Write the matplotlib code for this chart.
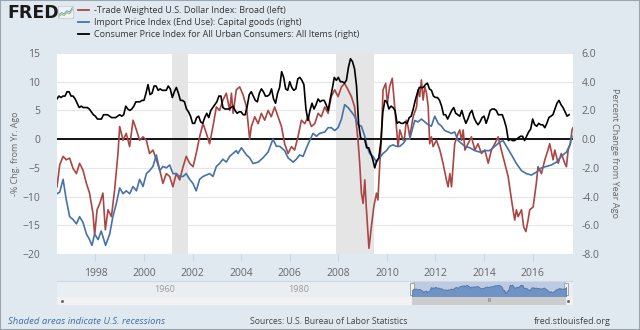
import numpy as np
import matplotlib
matplotlib.use("Agg")
import matplotlib.pyplot as plt
from matplotlib.lines import Line2D
from matplotlib.transforms import blended_transform_factory

plt.rcParams['font.family'] = ['Open Sans', 'DejaVu Sans']

BG = '#e1e9f0'
RED = '#aa4643'
BLUE = '#4572a7'
TXT = '#666666'

# -Trade Weighted U.S. Dollar Index: Broad, % chg from yr ago (left axis)
dollar_t = [1996.42, 1996.47, 1996.53, 1996.67, 1996.80, 1996.94, 1997.08, 1997.22, 1997.35, 1997.49,
            1997.63, 1997.76, 1997.90, 1997.97, 1998.07, 1998.18, 1998.31, 1998.41, 1998.52, 1998.66,
            1998.79, 1998.93, 1999.00, 1999.14, 1999.27, 1999.41, 1999.55, 1999.69, 1999.82, 1999.96,
            2000.10, 2000.23, 2000.37, 2000.51, 2000.65, 2000.78, 2000.92, 2001.06, 2001.19, 2001.33,
            2001.47, 2001.61, 2001.74, 2001.88, 2002.02, 2002.15, 2002.29, 2002.43, 2002.57, 2002.70,
            2002.84, 2002.98, 2003.11, 2003.25, 2003.39, 2003.53, 2003.60, 2003.67, 2003.80, 2003.94,
            2004.08, 2004.22, 2004.35, 2004.42, 2004.56, 2004.70, 2004.83, 2004.97, 2005.11, 2005.24,
            2005.38, 2005.52, 2005.66, 2005.79, 2005.93, 2006.07, 2006.20, 2006.34, 2006.48, 2006.62,
            2006.75, 2006.89, 2007.03, 2007.17, 2007.30, 2007.44, 2007.58, 2007.71, 2007.85, 2007.99,
            2008.13, 2008.26, 2008.40, 2008.54, 2008.67, 2008.74, 2008.81, 2008.88, 2008.95, 2009.02,
            2009.09, 2009.15, 2009.22, 2009.26, 2009.36, 2009.46, 2009.57, 2009.63, 2009.70, 2009.77,
            2009.84, 2009.95, 2010.02, 2010.11, 2010.22, 2010.32, 2010.39, 2010.46, 2010.53, 2010.67,
            2010.73, 2010.80, 2010.87, 2010.94, 2011.08, 2011.22, 2011.28, 2011.35, 2011.42, 2011.49,
            2011.56, 2011.63, 2011.70, 2011.76, 2011.83, 2011.90, 2012.04, 2012.18, 2012.31, 2012.45,
            2012.52, 2012.59, 2012.66, 2012.72, 2012.79, 2012.93, 2013.00, 2013.07, 2013.14, 2013.21,
            2013.34, 2013.48, 2013.62, 2013.75, 2013.89, 2014.03, 2014.17, 2014.30, 2014.44, 2014.58,
            2014.71, 2014.85, 2014.99, 2015.13, 2015.26, 2015.33, 2015.40, 2015.54, 2015.63, 2015.72,
            2015.81, 2015.88, 2016.02, 2016.15, 2016.22, 2016.36, 2016.50, 2016.63, 2016.70, 2016.84,
            2016.91, 2017.05, 2017.18, 2017.32, 2017.39, 2017.46, 2017.55, 2017.62, 2017.66]
dollar_v = [-8.3, -6.5, -4.5, -3.0, -3.6, -3.3, -5.1, -6.0, -4.2, -5.4,
            -7.7, -9.4, -12.9, -16.7, -12.3, -11.2, -9.4, -15.8, -12.3, -13.5,
            -8.9, -2.5, 2.2, -0.2, 1.0, -1.3, 3.3, 1.6, -0.2, 0.4,
            -0.2, -2.5, -1.9, -3.6, -5.4, -7.7, -6.0, -6.5, -8.3, -6.0,
            -7.1, -4.8, -3.0, -4.2, -4.8, -2.5, 0.4, 2.7, 1.0, -0.8,
            2.2, 5.6, 5.0, 6.8, 8.0, 5.0, 8.0, 4.5, 8.6, 9.1,
            7.7, 5.6, 0.0, 2.2, 3.9, 2.7, 4.5, 3.3, 5.0, 3.9,
            5.6, 3.9, 2.2, -0.8, -2.5, -1.3, -1.9, 0.4, 3.3, 2.7,
            3.9, 2.2, 2.7, 4.5, 3.9, 5.6, 4.5, 7.4, 8.6, 7.4,
            9.1, 9.7, 8.6, 7.4, 5.6, 2.7, -0.2, -4.2, -9.4, -11.2,
            -7.1, -11.8, -16.4, -19.0, -15.3, -11.8, -9.4, -10.6, -4.8, -0.2,
            8.6, 9.7, 6.2, 9.1, 10.6, 5.6, 2.2, -1.3, 1.6, -0.2,
            0.4, 3.3, 2.2, 0.4, 3.9, 5.6, 8.6, 7.4, 10.3, 6.8,
            9.1, 8.0, 5.6, -0.8, 0.4, -1.3, -0.2, -1.9, -4.2, -7.1,
            -8.3, -6.0, -8.3, -4.8, -0.8, 1.0, 1.6, -0.2, 1.6, -1.9,
            -0.8, 0.4, -1.9, -0.8, -2.5, -1.9, -4.2, -1.9, -0.8, 0.4,
            -1.9, -4.2, -6.5, -10.6, -14.1, -12.3, -13.5, -12.3, -15.3, -16.1,
            -14.1, -12.3, -11.8, -7.7, -4.8, -6.0, -3.6, -1.9, -0.8, -3.6,
            -1.9, -4.2, -2.5, -4.2, -4.8, -1.9, -0.8, 1.6, 2.0]

# Import Price Index (End Use): Capital goods, % chg from yr ago (right axis)
capgoods_t = [1996.42, 1996.53, 1996.67, 1996.80, 1996.94, 1997.08, 1997.22, 1997.35, 1997.49, 1997.63,
              1997.76, 1997.86, 1997.97, 1998.11, 1998.24, 1998.42, 1998.59, 1998.72, 1998.86, 1999.00,
              1999.14, 1999.27, 1999.41, 1999.55, 1999.69, 1999.82, 1999.96, 2000.10, 2000.23, 2000.37,
              2000.51, 2000.65, 2000.78, 2000.92, 2001.06, 2001.19, 2001.33, 2001.47, 2001.61, 2001.74,
              2001.88, 2002.02, 2002.15, 2002.29, 2002.43, 2002.57, 2002.70, 2002.84, 2002.98, 2003.11,
              2003.25, 2003.39, 2003.53, 2003.66, 2003.80, 2003.87, 2004.01, 2004.22, 2004.35, 2004.49,
              2004.70, 2004.90, 2005.11, 2005.31, 2005.45, 2005.59, 2005.79, 2005.93, 2006.14, 2006.27,
              2006.41, 2006.55, 2006.69, 2006.82, 2006.96, 2007.10, 2007.23, 2007.44, 2007.58, 2007.71,
              2007.85, 2007.99, 2008.13, 2008.26, 2008.40, 2008.54, 2008.67, 2008.81, 2008.95, 2009.09,
              2009.18, 2009.29, 2009.43, 2009.57, 2009.70, 2009.84, 2009.98, 2010.11, 2010.25, 2010.39,
              2010.53, 2010.67, 2010.80, 2010.94, 2011.08, 2011.15, 2011.28, 2011.42, 2011.56, 2011.70,
              2011.83, 2011.97, 2012.11, 2012.25, 2012.38, 2012.52, 2012.66, 2012.79, 2012.93, 2013.07,
              2013.21, 2013.41, 2013.62, 2013.82, 2014.03, 2014.23, 2014.44, 2014.65, 2014.78, 2014.92,
              2015.13, 2015.33, 2015.54, 2015.74, 2015.95, 2016.15, 2016.36, 2016.56, 2016.77, 2016.98,
              2017.18, 2017.39, 2017.53, 2017.62]
capgoods_v = [-3.8, -3.7, -2.8, -4.2, -5.4, -5.6, -5.9, -5.4, -5.8, -6.6,
              -7.0, -7.4, -6.6, -7.0, -6.4, -7.4, -6.6, -5.4, -4.5, -3.4,
              -3.8, -3.6, -3.8, -3.3, -3.6, -2.8, -3.3, -2.4, -2.2, -1.9,
              -1.1, -2.2, -1.9, -2.0, -1.8, -2.4, -2.4, -2.6, -2.6, -2.4,
              -2.8, -3.1, -3.6, -2.8, -2.6, -2.5, -2.4, -2.6, -1.9, -1.7,
              -1.4, -1.6, -1.2, -1.0, -0.8, -1.0, -0.6, -1.1, -1.3, -1.7,
              -1.6, -1.3, -0.9, 0.0, -0.5, -0.5, -0.8, -1.3, -1.6, -1.4,
              -1.1, -1.2, -0.6, -0.1, 0.4, 0.2, 0.4, 0.5, 0.8, 0.8,
              0.6, 0.8, 1.4, 2.4, 2.2, 1.9, 1.6, 1.0, 0.9, 0.2,
              -0.5, -1.0, -1.2, -1.6, -1.3, -1.0, -0.8, -0.5, -0.4, -0.5,
              -0.5, -0.3, 0.0, 0.0, 0.9, 1.3, 1.2, 1.4, 1.2, 1.0,
              0.9, 1.6, 1.1, 0.9, 0.6, 0.5, 0.4, 0.5, -0.1, -0.3,
              -0.5, -0.6, -0.8, -0.9, -0.8, -0.8, -0.5, -0.2, -0.1, -0.5,
              -1.1, -1.7, -2.2, -2.4, -2.5, -2.3, -2.0, -1.9, -1.8, -1.6,
              -1.2, -0.9, -0.4, 0.2]

# CPI for All Urban Consumers: All Items, % chg from yr ago, monthly from Jun 1996 (right axis)
cpi_v = [2.8, 3.0, 2.9, 3.0, 3.0, 3.3, 3.3,
         3.0, 3.0, 2.8, 2.5, 2.2, 2.3, 2.2, 2.2, 2.2, 2.1, 1.9, 1.7,
         1.6, 1.4, 1.4, 1.4, 1.7, 1.7, 1.7, 1.6, 1.5, 1.5, 1.5, 1.6,
         1.7, 1.6, 1.7, 2.3, 2.1, 2.0, 2.1, 2.3, 2.6, 2.6, 2.6, 2.7,
         2.7, 3.2, 3.8, 3.1, 3.2, 3.7, 3.7, 3.4, 3.5, 3.4, 3.4, 3.4,
         3.7, 3.5, 2.9, 3.3, 3.6, 3.2, 2.7, 2.7, 2.6, 2.1, 1.9, 1.6,
         1.1, 1.1, 1.5, 1.6, 1.2, 1.1, 1.5, 1.8, 1.5, 2.0, 2.2, 2.4,
         2.6, 3.0, 3.0, 2.2, 2.1, 2.1, 2.1, 2.2, 2.3, 2.0, 1.8, 1.9,
         1.9, 1.7, 1.7, 2.3, 3.1, 3.3, 3.0, 2.7, 2.6, 3.2, 3.5, 3.3,
         3.0, 3.0, 3.1, 3.5, 2.8, 2.5, 3.2, 3.6, 4.7, 4.3, 3.5, 3.4,
         4.0, 3.6, 3.4, 3.5, 4.2, 4.3, 4.1, 3.8, 2.1, 1.3, 2.0, 2.5,
         2.1, 2.4, 2.8, 2.6, 2.7, 2.7, 2.4, 2.0, 2.8, 3.5, 4.3, 4.1,
         4.3, 4.0, 4.0, 3.9, 4.1, 5.0, 5.6, 5.4, 4.9, 3.7, 1.1, 0.1,
         0.0, 0.0, -0.6, -0.6, -1.0, -1.4, -2.0, -1.5, -1.3, -0.2, 1.9, 2.7,
         2.6, 2.1, 2.3, 2.2, 2.0, 1.1, 1.2, 1.1, 1.1, 1.2, 1.1, 1.5,
         1.6, 2.1, 2.7, 3.2, 3.6, 3.6, 3.6, 3.8, 3.9, 3.5, 3.4, 3.0,
         2.9, 2.9, 2.7, 2.3, 1.7, 1.7, 1.4, 1.7, 2.0, 2.2, 1.8, 1.7,
         1.6, 2.0, 1.5, 1.1, 1.4, 1.8, 2.0, 1.5, 1.2, 1.0, 1.2, 1.5,
         1.6, 1.1, 1.5, 2.0, 2.1, 2.1, 2.0, 1.7, 1.7, 1.7, 1.3, 0.8,
         -0.1, 0.0, -0.1, -0.1, 0.0, 0.1, 0.2, 0.2, -0.1, 0.2, 0.5, 0.7,
         1.4, 1.0, 0.9, 1.1, 1.0, 1.0, 0.8, 1.1, 1.5, 1.6, 1.7, 2.1,
         2.5, 2.7, 2.4, 2.2, 1.9, 1.6, 1.7]
cpi_t = 1996 + 5 / 12 + np.arange(len(cpi_v)) / 12

recessions = [(2001.17, 2001.83), (2007.92, 2009.46)]
x_range = (1996.42, 2017.66)
year_ticks = list(range(1998, 2017, 2))
left_ticks = list(range(-20, 16, 5))
right_ticks = [-8.0, -6.0, -4.0, -2.0, 0.0, 2.0, 4.0, 6.0]

legend_labels = ['-Trade Weighted U.S. Dollar Index: Broad (left)',
                 'Import Price Index (End Use): Capital goods (right)',
                 'Consumer Price Index for All Urban Consumers: All Items (right)']

# navigator strip under the chart
nav_range = (1944.0, 2021.0)
nav_sel = (1997.0, 2020.0)
nav_labels = [1960, 1980]
icon_line = [0.25, 0.45, 0.35, 0.6, 0.5, 0.85]

W, H = 640, 330


def box(x0, y0, x1, y1):
    return [x0 / W, 1 - y1 / H, (x1 - x0) / W, (y1 - y0) / H]


def nav_px(year):
    return 57 + (year - nav_range[0]) / (nav_range[1] - nav_range[0]) * 516


fig = plt.figure(figsize=(6.4, 3.3), dpi=100, facecolor=BG)

ax = fig.add_axes(box(57, 53, 573, 254))
ax.set_facecolor('white')
ax.set_xlim(*x_range)
ax.set_ylim(-20, 15)
for a, b in recessions:
    ax.axvspan(a, b, color='#e5e5e5', lw=0, zorder=0.5)
ax.set_yticks(left_ticks)
ax.grid(axis='y', color='#e6e6e6', lw=0.8, zorder=0.4)
ax.set_axisbelow(True)
ax.axhline(0, color='black', lw=1.3, zorder=2)
ax.plot(dollar_t, dollar_v, color=RED, lw=1.2, zorder=3)
ax.set_xticks(year_ticks)
ax.tick_params(axis='x', colors='#ccd6eb', length=5, width=0.8, labelcolor=TXT, labelsize=7.5, pad=5)
ax.tick_params(axis='y', length=0, labelcolor=TXT, labelsize=7.5, pad=12)
for s in ax.spines.values():
    s.set_visible(False)
ax.set_ylabel('-% Chg. from Yr. Ago', color=TXT, fontsize=6.4)
ax.yaxis.set_label_coords(-0.072, 0.5)

ax2 = ax.twinx()
ax2.set_ylim(-8, 6)
ax2.plot(capgoods_t, capgoods_v, color=BLUE, lw=1.2)
ax2.plot(cpi_t, cpi_v, color='black', lw=1.2)
ax2.set_yticks(right_ticks)
ax2.set_yticklabels([f'{v:.1f}' for v in right_ticks])
ax2.tick_params(axis='y', length=0, labelcolor=TXT, labelsize=7.5, pad=6)
for s in ax2.spines.values():
    s.set_visible(False)
ax2.set_ylabel('Percent Change from Year Ago', color=TXT, fontsize=6.6, rotation=270, va='bottom')
ax2.yaxis.set_label_coords(1.072, 0.5)

# header: logo, icon and legend
fig.text(7 / W, 1 - 4 / H, 'FRED', va='top', ha='left', fontsize=12.5, fontweight='black',
         family='DejaVu Sans', color='#1a1a1a')
icon = fig.add_axes(box(58, 6, 73, 18))
icon.set_facecolor('#eef2f5')
icon.plot(icon_line, color='#7fa4c9', lw=0.8)
icon.plot([v - 0.15 for v in icon_line], color='#9cc17a', lw=0.8)
icon.set_ylim(0, 1)
icon.set_xticks([])
icon.set_yticks([])
for s in icon.spines.values():
    s.set_color('#c0c8d0')
    s.set_linewidth(0.5)

handles = [Line2D([], [], color=c, lw=1.3) for c in (RED, BLUE, 'black')]
fig.legend(handles, legend_labels, loc='upper left', bbox_to_anchor=(78 / W, 1 - 6 / H),
           frameon=False, fontsize=6.5, handlelength=1.2, handletextpad=0.6,
           labelspacing=0.35, borderpad=0, borderaxespad=0, labelcolor='#333333')

# navigator
nav = fig.add_axes(box(57, 281, 573, 297))
nav.set_facecolor('#e9eef3')
nav.set_xlim(*nav_range)
nav.set_ylim(0, 1)
nav.axvspan(*nav_sel, color='#bccbe2', lw=0)
trans = blended_transform_factory(nav.transData, nav.transAxes)
for yr in nav_labels:
    nav.text(yr, 0.45, str(yr), transform=trans, ha='center', va='center', color='#999999', fontsize=6.5)
nav.set_xticks([])
nav.set_yticks([])
for s in nav.spines.values():
    s.set_visible(False)
nav.spines['top'].set_visible(True)
nav.spines['top'].set_color('#cfd8e2')

sel = fig.add_axes(box(nav_px(nav_sel[0]), 283, nav_px(nav_sel[1]), 297))
sel.patch.set_alpha(0)
sel.fill_between(dollar_t, dollar_v, -32, color='#6f93c4', lw=0.6, edgecolor='#4f74a8')
sel.set_xlim(*x_range)
sel.set_ylim(-32, 16)
sel.axis('off')
handle_marker = [(-0.35, -1), (0.35, -1), (0.35, 1), (-0.35, 1), (-0.35, -1)]
nav.plot(list(nav_sel), [0.5, 0.5], ls='none', marker=handle_marker, markersize=9,
         markerfacecolor='#f4f4f4', markeredgecolor='#999999', markeredgewidth=0.6, zorder=5)

# scrollbar
sb = fig.add_axes(box(57, 297, 573, 305))
sb.set_facecolor('#f2f2f2')
sb.set_xlim(*nav_range)
sb.set_ylim(0, 1)
sb.axvspan(*nav_sel, color='#cccccc', lw=0)
sb.text(sum(nav_sel) / 2, 0.5, 'III', ha='center', va='center', fontsize=3.5, color='#555555')
sb.plot([nav_range[0] + 0.8, nav_range[1] - 0.8], [0.5, 0.5], ls='none', marker='s', markersize=1,
        color='#666666')
sb.set_xticks([])
sb.set_yticks([])
for s in sb.spines.values():
    s.set_visible(False)

# footer
fig.text(8 / W, 1 - 322 / H, 'Shaded areas indicate U.S. recessions', style='italic',
         color='#3c6ea8', fontsize=6.8, va='center')
fig.text(250 / W, 1 - 322 / H, 'Sources: U.S. Bureau of Labor Statistics', color='#444444',
         fontsize=6.2, va='center')
fig.text(611 / W, 1 - 322 / H, 'fred.stlouisfed.org', color='#444444', fontsize=6.5,
         va='center', ha='right')

fig.patches.append(plt.Rectangle((0, 0), 1, 1, transform=fig.transFigure, fill=False,
                                 edgecolor='#9aa5b0', lw=1.5))

fig.savefig('out.png', dpi=100, facecolor=BG)
